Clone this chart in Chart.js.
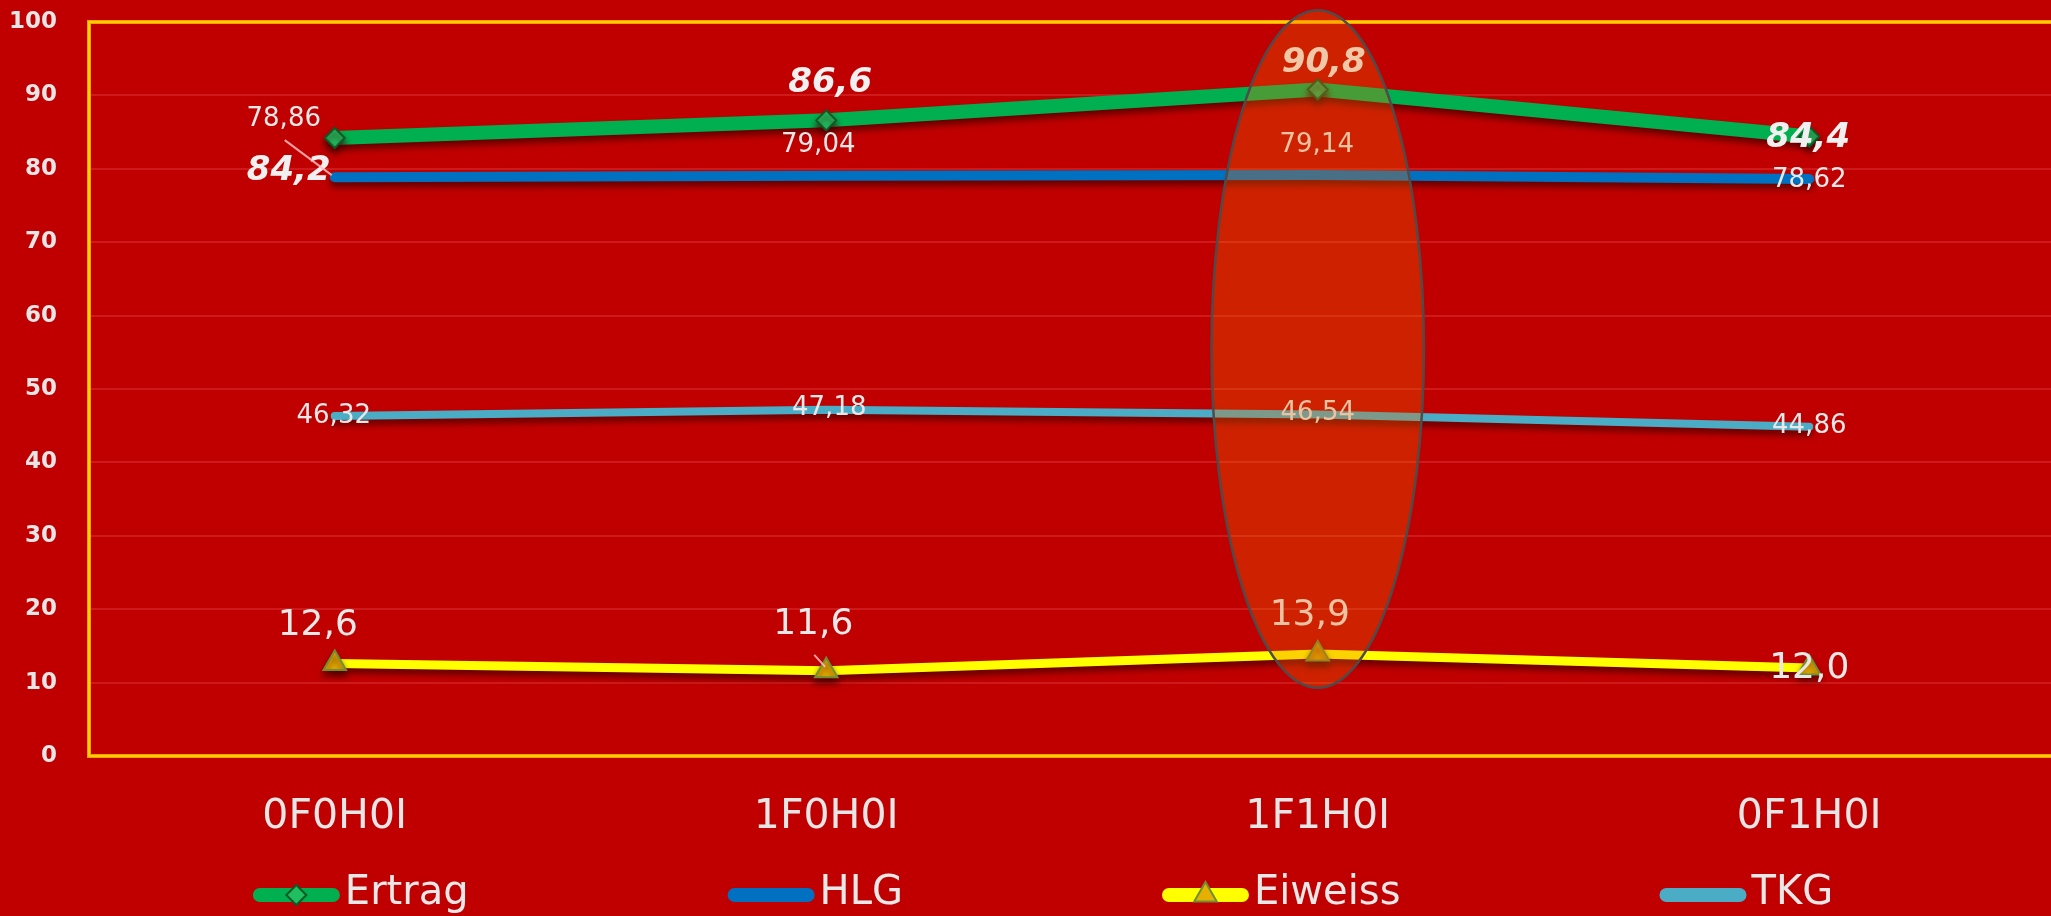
<!DOCTYPE html>
<html lang="de">
<head>
<meta charset="utf-8">
<title>Ertrag, HLG, Eiweiss und TKG</title>
<script src="https://cdn.jsdelivr.net/npm/chart.js@4.4.1/dist/chart.umd.min.js"></script>
<style>
  html, body { margin: 0; padding: 0; background: #C00000; overflow: hidden; width: 2051px; height: 916px; }
  #wrap { position: absolute; left: 0; top: 0; width: 2086px; height: 916px; }
  canvas { display: block; }
</style>
</head>
<body>
<div id="wrap"><canvas id="chart" width="2086" height="916"></canvas></div>
<script>
// ---- data ----
const categories = ['0F0H0I', '1F0H0I', '1F1H0I', '0F1H0I'];
const ertrag  = [84.2, 86.6, 90.8, 84.4];
const hlg     = [78.86, 79.04, 79.14, 78.62];
const eiweiss = [12.6, 11.6, 13.9, 12.0];
const tkg     = [46.32, 47.18, 46.54, 44.86];
const yTickValues = [0, 10, 20, 30, 40, 50, 60, 70, 80, 90, 100];

// ---- value label styling (offsets in px from the point, leader lines) ----
const valueLabels = {
  Ertrag:  { decimals: 1, font: 'italic bold 34px "DejaVu Sans"', color: '#f0f0f0',
             offsets: [[-46, 33], [4, -37], [6, -26], [-1, 2]] },
  HLG:     { decimals: 2, font: '26px "DejaVu Sans"', color: '#e8e8e8',
             offsets: [[-51, -58], [-8, -31], [-1, -30], [0, 1]],
             leaders: [[[-50, -37], [-3, -2]], null, null, null] },
  Eiweiss: { decimals: 1, font: '36px "DejaVu Sans"', color: '#e8e8e8',
             offsets: [[-17, -38], [-13, -46], [-8, -38], [0, 1]],
             leaders: [null, [[-12, -16], [-1, -4]], null, null] },
  TKG:     { decimals: 2, font: '26px "DejaVu Sans"', color: '#e8e8e8',
             offsets: [[-1, 0], [3, -1], [0, -1], [0, 0]] }
};

// highlighted category (ellipse), vertical extent in axis units
const highlight = { index: 2, top: 101.6, bottom: 9.3, halfWidth: 0.216 };

const legendStyle = { font: '40px "DejaVu Sans"', color: '#e8e8e8', sample: 87, textGap: 5, itemGap: 259, y: 894 };

const fmt = (v, d) => v.toFixed(d).replace('.', ',');

const decorations = {
  id: 'decorations',
  beforeDraw(chart) {
    const ctx = chart.ctx;
    ctx.save();
    ctx.fillStyle = '#C00000';
    ctx.fillRect(0, 0, chart.width, chart.height);
    ctx.restore();
  },
  beforeDatasetsDraw(chart) {
    // plot frame (left, top, bottom)
    const { ctx, chartArea: a } = chart;
    ctx.save();
    ctx.lineJoin = 'miter';
    [['#FF9A00', 4], ['#FFE600', 1.6]].forEach(([c, w]) => {
      ctx.strokeStyle = c; ctx.lineWidth = w;
      ctx.beginPath();
      ctx.moveTo(a.right + 40, a.top);
      ctx.lineTo(a.left, a.top);
      ctx.lineTo(a.left, a.bottom);
      ctx.lineTo(a.right + 40, a.bottom);
      ctx.stroke();
    });
    ctx.restore();
  },
  beforeDatasetDraw(chart) {
    const ctx = chart.ctx;
    ctx.save();
    ctx.shadowColor = 'rgba(70,0,0,0.75)';
    ctx.shadowBlur = 6;
    ctx.shadowOffsetY = 5;
  },
  afterDatasetDraw(chart) {
    chart.ctx.restore();
  },
  afterDatasetsDraw(chart) {
    const ctx = chart.ctx;
    // value labels
    chart.data.datasets.forEach((ds, di) => {
      const st = valueLabels[ds.label];
      const meta = chart.getDatasetMeta(di);
      meta.data.forEach((pt, i) => {
        const [dx, dy] = st.offsets[i];
        const lead = st.leaders && st.leaders[i];
        ctx.save();
        if (lead) {
          ctx.strokeStyle = 'rgba(255,190,190,0.85)';
          ctx.lineWidth = 2;
          ctx.beginPath();
          ctx.moveTo(pt.x + lead[0][0], pt.y + lead[0][1]);
          ctx.lineTo(pt.x + lead[1][0], pt.y + lead[1][1]);
          ctx.stroke();
        }
        ctx.font = st.font;
        ctx.fillStyle = st.color;
        ctx.textAlign = 'center';
        ctx.textBaseline = 'middle';
        ctx.fillText(fmt(ds.data[i], st.decimals), pt.x + dx, pt.y + dy);
        ctx.restore();
      });
    });
    // highlight ellipse around one category
    const xs = chart.scales.x, ys = chart.scales.y;
    const cx = xs.getPixelForValue(highlight.index);
    const band = xs.getPixelForValue(1) - xs.getPixelForValue(0);
    const top = ys.getPixelForValue(highlight.top);
    const bottom = ys.getPixelForValue(highlight.bottom);
    ctx.save();
    ctx.beginPath();
    ctx.ellipse(cx, (top + bottom) / 2, band * highlight.halfWidth, (bottom - top) / 2, 0, 0, Math.PI * 2);
    ctx.fillStyle = 'rgba(240,110,0,0.3)';
    ctx.fill();
    ctx.strokeStyle = '#4c4c4c';
    ctx.lineWidth = 2.5;
    ctx.stroke();
    ctx.restore();
  },
  afterDraw(chart) {
    // legend row at the bottom
    const ctx = chart.ctx;
    const L = legendStyle;
    ctx.save();
    ctx.font = L.font;
    const items = chart.data.datasets.map(ds => ({ ds, w: L.sample + L.textGap + ctx.measureText(ds.label).width }));
    const total = items.reduce((s, it) => s + it.w, 0) + L.itemGap * (items.length - 1);
    let x = chart.width / 2 - total / 2;
    items.forEach(({ ds, w }) => {
      const lw = Math.max(ds.borderWidth, 14);
      ctx.strokeStyle = ds.borderColor;
      ctx.lineWidth = lw;
      ctx.lineCap = 'round';
      ctx.beginPath();
      ctx.moveTo(x + lw / 2, L.y + 1);
      ctx.lineTo(x + L.sample - lw / 2, L.y + 1);
      ctx.stroke();
      if (ds.pointRadius > 0) {
        ctx.fillStyle = ds.pointBackgroundColor;
        ctx.strokeStyle = ds.pointBorderColor;
        ctx.lineWidth = ds.pointBorderWidth;
        Chart.helpers.drawPoint(ctx, { pointStyle: ds.pointStyle, radius: ds.pointRadius, borderWidth: ds.pointBorderWidth, rotation: 0 }, x + L.sample / 2, L.y + 1);
      }
      ctx.fillStyle = L.color;
      ctx.textAlign = 'left';
      ctx.textBaseline = 'middle';
      ctx.fillText(ds.label, x + L.sample + L.textGap, L.y);
      x += w + L.itemGap;
    });
    ctx.restore();
  }
};

new Chart(document.getElementById('chart'), {
  type: 'line',
  data: {
    labels: categories,
    datasets: [
      { label: 'Ertrag', data: ertrag, borderColor: '#00B050', borderWidth: 14,
        pointStyle: 'rectRot', pointRadius: 10, pointBackgroundColor: '#1fbf5f',
        pointBorderColor: '#0d5a28', pointBorderWidth: 2 },
      { label: 'HLG', data: hlg, borderColor: '#0070C0', borderWidth: 10, pointRadius: 0 },
      { label: 'Eiweiss', data: eiweiss, borderColor: '#FFFF00', borderWidth: 9,
        pointStyle: 'triangle', pointRadius: 13, pointBackgroundColor: '#E6B000',
        pointBorderColor: '#6f8f35', pointBorderWidth: 2 },
      { label: 'TKG', data: tkg, borderColor: '#4BACC6', borderWidth: 8, pointRadius: 0 }
    ]
  },
  options: {
    responsive: false,
    animation: false,
    devicePixelRatio: 1,
    layout: { padding: { top: 22, right: 31, left: 0, bottom: 0 } },
    elements: { line: { tension: 0, borderCapStyle: 'round', borderJoinStyle: 'round', fill: false } },
    plugins: { legend: { display: false }, tooltip: { enabled: false } },
    scales: {
      x: {
        type: 'category', offset: true,
        grid: { display: false, drawTicks: false }, border: { display: false },
        ticks: { color: '#e6e6e6', font: { family: 'DejaVu Sans', size: 41 }, padding: 37, maxRotation: 0, autoSkip: false },
        afterFit(s) { s.height = 160; s.paddingLeft = 0; s.paddingRight = 0; }
      },
      y: {
        min: 0, max: 100,
        grid: { color: 'rgba(255,120,120,0.22)', lineWidth: 2, drawTicks: false }, border: { display: false },
        ticks: { color: '#e6e6e6', font: { family: 'DejaVu Sans', size: 23, weight: 'bold' }, padding: 32 },
        afterBuildTicks(s) { s.ticks = yTickValues.map(v => ({ value: v })); },
        afterFit(s) { s.width = 89; s.paddingTop = 0; s.paddingBottom = 0; }
      }
    }
  },
  plugins: [decorations]
});
</script>
</body>
</html>
